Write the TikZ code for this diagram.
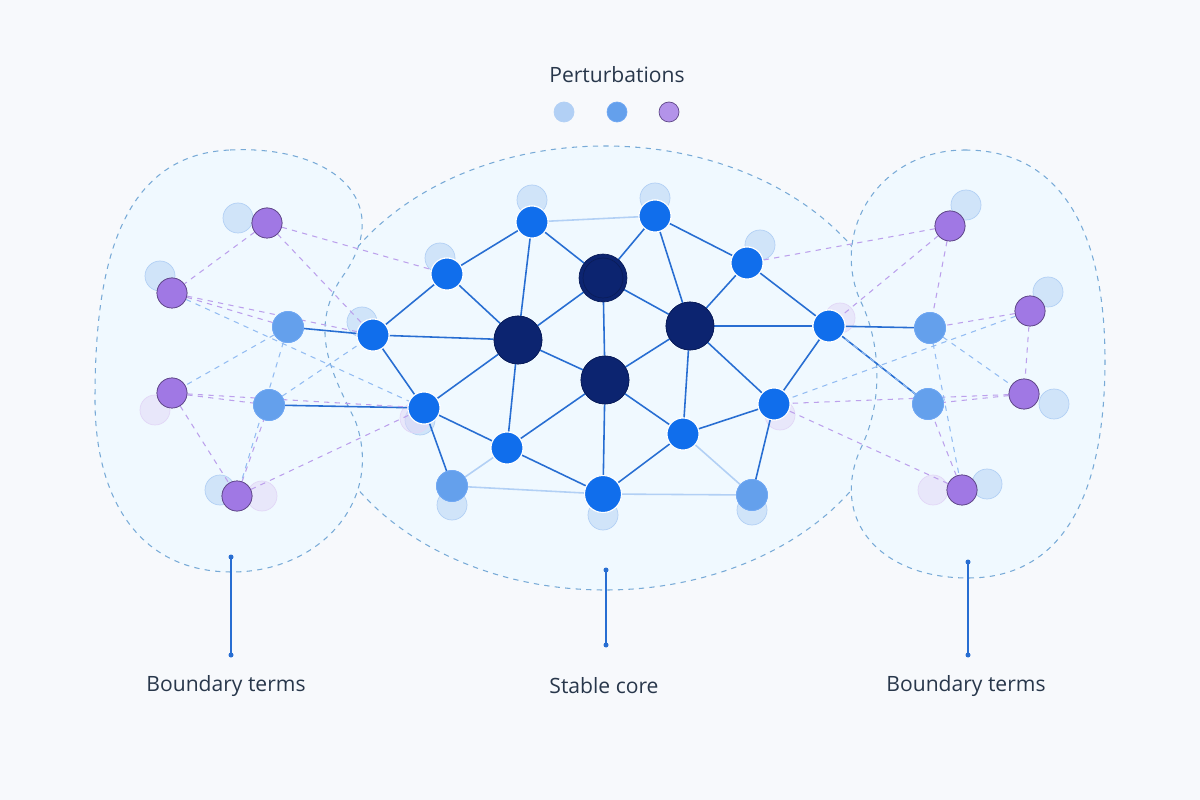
\documentclass[tikz,border=0pt]{standalone}
\usepackage{fontspec}
\setmainfont{Open Sans}
\usepackage{tikz}
\definecolor{bgcol}{RGB}{247,249,252}
\definecolor{corecol}{RGB}{12,36,112}
\definecolor{midcol}{RGB}{16,110,236}
\definecolor{softcol}{RGB}{100,160,236}
\definecolor{palecol}{RGB}{178,208,245}
\definecolor{purpcol}{RGB}{160,120,228}
\definecolor{edgecol}{RGB}{40,110,210}
\definecolor{blobcol}{RGB}{120,170,215}
\definecolor{textcol}{RGB}{40,55,75}

\begin{document}
\begin{tikzpicture}[x=0.02cm, y=-0.02cm]
    \tikzstyle{core} = [circle, fill=corecol, draw=corecol!80!black, inner sep=0pt, minimum size=48pt*0.02/0.0352]
    \tikzstyle{hub} = [circle, fill=midcol, draw=white, line width=0.6pt, inner sep=0pt, minimum size=0.64cm]
    \tikzstyle{soft} = [circle, fill=softcol, draw=midcol!60, inner sep=0pt, minimum size=0.62cm]
    \tikzstyle{purp} = [circle, fill=purpcol, draw=purpcol!60!black, inner sep=0pt, minimum size=0.6cm]
    \tikzstyle{ghost} = [circle, fill=palecol, fill opacity=0.5, draw=palecol, inner sep=0pt, minimum size=0.6cm]
    \tikzstyle{ghostp} = [circle, fill=purpcol!30, fill opacity=0.5, draw=purpcol!30, inner sep=0pt, minimum size=0.6cm]
    \tikzstyle{link} = [edgecol, line width=0.9pt]
    \tikzstyle{faint} = [palecol, line width=0.9pt]
    \tikzstyle{dlink} = [purpcol!70, dashed, line width=0.6pt]
    \tikzstyle{blink} = [softcol!70, dashed, line width=0.6pt]
    \tikzstyle{blob} = [blobcol, dashed, fill=blue!40!cyan!6, line width=0.6pt]
    \tikzstyle{lead} = [edgecol, line width=0.7pt]
    \tikzstyle{lbl} = [font=\large, text=textcol]

    % background and regions
    \fill [bgcol] (0,0) rectangle (1200,800);
    \useasboundingbox (0,0) rectangle (1200,800);
    \draw [blob] (605,368) ellipse [x radius=295, y radius=222];
    \draw [blob] (230,150) .. controls (330,145) and (400,200) .. (340,280)
        .. controls (310,330) and (330,370) .. (355,420)
        .. controls (385,500) and (320,572) .. (232,572)
        .. controls (140,572) and (95,500) .. (95,400)
        .. controls (95,290) and (110,155) .. (230,150);
    \draw [blob] (965,150) .. controls (1060,150) and (1105,230) .. (1105,360)
        .. controls (1105,500) and (1060,578) .. (968,578)
        .. controls (880,578) and (830,520) .. (860,450)
        .. controls (885,400) and (880,340) .. (860,300)
        .. controls (830,230) and (880,150) .. (965,150);

    % perturbations
    \node [lbl] (ptitle) at (617,75) {Perturbations};
    \node [ghost, fill opacity=1, fill=palecol, minimum size=0.4cm] (p1) at (564,112) {};
    \node [soft, minimum size=0.4cm] (p2) at (617,112) {};
    \node [purp, fill=purpcol!80, minimum size=0.4cm] (p3) at (669,112) {};

    % ghost copies
    \foreach \gx/\gy in {532/200,655/198,440/258,760/245,362/322,420/420,452/505,603/515,752/510,
                         238/218,160/276,220/490,966/205,1048/292,1054/404,987/484}
        \node [ghost] at (\gx,\gy) {};
    \foreach \gx/\gy in {155/410,262/496,933/490,780/415,840/318,415/418}
        \node [ghostp] at (\gx,\gy) {};

    % core nodes
    \node [core] (c1) at (518,340) {};
    \node [core, minimum size=0.8cm] (c2) at (603,278) {};
    \node [core] (c3) at (690,326) {};
    \node [core] (c4) at (605,380) {};

    % middle ring
    \node [hub] (n1) at (532,222) {};
    \node [hub] (n2) at (655,216) {};
    \node [hub] (n3) at (447,274) {};
    \node [hub] (n4) at (747,263) {};
    \node [hub] (n5) at (373,335) {};
    \node [hub] (n6) at (829,326) {};
    \node [hub] (n7) at (424,408) {};
    \node [hub] (n8) at (774,404) {};
    \node [hub] (n9) at (507,448) {};
    \node [hub] (n10) at (683,434) {};
    \node [hub, minimum size=0.74cm] (n11) at (603,494) {};
    \node [soft] (n12) at (452,486) {};
    \node [soft] (n13) at (752,495) {};

    % boundary terms
    \node [purp] (lp1) at (267,223) {};
    \node [purp] (lp2) at (172,293) {};
    \node [purp] (lp3) at (172,393) {};
    \node [purp] (lp4) at (237,496) {};
    \node [soft] (lb1) at (288,327) {};
    \node [soft] (lb2) at (269,405) {};
    \node [purp] (rp1) at (950,226) {};
    \node [purp] (rp2) at (1030,311) {};
    \node [purp] (rp3) at (1024,394) {};
    \node [purp] (rp4) at (962,490) {};
    \node [soft] (rb1) at (930,328) {};
    \node [soft] (rb2) at (928,404) {};

    % links
    \begin{scope}[on background layer/.style={}]
    \foreach \a/\b in {n5/c1,n3/c1,n1/c1,n1/c2,n2/c2,n2/c3,n4/c3,n6/c3,c1/c2,c2/c3,c1/c4,c2/c4,c3/c4,
                       c1/n7,c1/n9,c4/n9,c4/n11,c4/n10,c3/n10,c3/n8,n7/n9,n9/n11,n11/n10,n10/n8,n8/n6,
                       n5/n3,n3/n1,n2/n4,n4/n6,n5/n7,n7/n12,n8/n13,n5/lb1,n7/lb2,n6/rb1,n6/rb2}
        \draw [link] (\a) -- (\b);
    \foreach \a/\b in {n1/n2,n12/n11,n11/n13,n12/n9,n13/n10}
        \draw [faint] (\a) -- (\b);
    \foreach \a/\b in {lp1/n3,lp1/lp2,lp2/lb1,lp3/lb2,lp3/lp4,lp4/lb2,lp1/n5,lp2/n5,lp3/n7,lp4/n7,
                       rp1/n4,rp1/rb1,rp2/rb1,rp2/rp3,rp3/rb2,rp4/rb2,rp4/n8,rp1/n6,rp3/n8}
        \draw [dlink] (\a) -- (\b);
    \foreach \a/\b in {lb1/lp3,lb2/n5,lb1/lp4,lp2/n7,rb1/rp3,rb2/n6,rb1/rp4,rp2/n8}
        \draw [blink] (\a) -- (\b);
    \end{scope}

    % redraw nodes on top
    \foreach \n in {c1,c2,c3,c4}
        \node [core] at (\n) {};
    \node [core, minimum size=0.8cm] at (c2) {};
    \foreach \n in {n1,n2,n3,n4,n5,n6,n7,n8,n9,n10}
        \node [hub] at (\n) {};
    \node [hub, minimum size=0.74cm] at (n11) {};
    \foreach \n in {n12,n13,lb1,lb2,rb1,rb2}
        \node [soft] at (\n) {};
    \foreach \n in {lp1,lp2,lp3,lp4,rp1,rp2,rp3,rp4}
        \node [purp] at (\n) {};

    % leaders and labels
    \coordinate (lt) at (231,557);
    \coordinate (lbot) at (231,655);
    \coordinate (ct) at (606,570);
    \coordinate (cbot) at (606,645);
    \coordinate (rt) at (968,562);
    \coordinate (rbot) at (968,655);
    \draw [lead] (lt) -- (lbot);
    \draw [lead] (ct) -- (cbot);
    \draw [lead] (rt) -- (rbot);
    \foreach \c in {lt,lbot,ct,cbot,rt,rbot}
        \fill [edgecol] (\c) circle (2.5);
    \node [lbl] (llbl) at (226,686) {Boundary terms};
    \node [lbl] (clbl) at (604,686) {Stable core};
    \node [lbl] (rlbl) at (966,686) {Boundary terms};
\end{tikzpicture}
\end{document}
